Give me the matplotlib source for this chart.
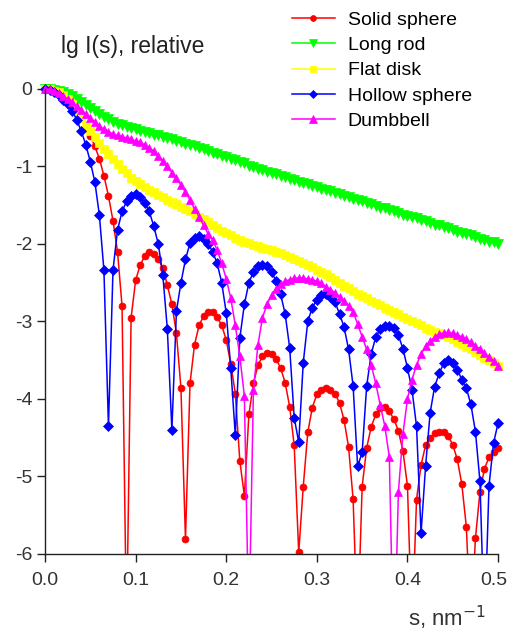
import matplotlib
matplotlib.use("Agg")
import matplotlib.pyplot as plt
from matplotlib.transforms import ScaledTranslation

plt.rcParams['font.family'] = ['Liberation Sans', 'DejaVu Sans']
plt.rcParams['axes.unicode_minus'] = False

# scattering vector grid, nm^-1
s_step = 0.005
s = [i * s_step for i in range(101)]

# lg I(s)
solid_sphere = [
    0, -0.005, -0.02, -0.05, -0.09, -0.14, -0.2, -0.28, -0.38, -0.5,
    -0.61, -0.74, -0.9, -1.12, -1.38, -1.7, -2.1, -2.8, -7.0, -2.95,
    -2.47, -2.27, -2.16, -2.11, -2.13, -2.2, -2.31, -2.53, -2.78, -3.15,
    -3.86, -5.81, -3.8, -3.3, -3.05, -2.93, -2.88, -2.88, -2.94, -3.05,
    -3.24, -3.55, -3.93, -4.8, -5.25, -4.2, -3.8, -3.56, -3.45, -3.41,
    -3.42, -3.48, -3.6, -3.79, -4.1, -4.6, -5.98, -5.13, -4.43, -4.11,
    -3.94, -3.88, -3.86, -3.88, -3.93, -4.05, -4.27, -4.62, -5.29, -7.0,
    -5.13, -4.63, -4.36, -4.2, -4.12, -4.1, -4.16, -4.26, -4.41, -4.67,
    -5.12, -7.0, -5.3, -4.85, -4.6, -4.5, -4.44, -4.42, -4.43, -4.48,
    -4.59, -4.78, -5.1, -5.65, -7.0, -5.8, -5.2, -4.9, -4.75, -4.68,
    -4.63]
long_rod = [
    0, -0.003, -0.01, -0.025, -0.04, -0.06, -0.09, -0.13, -0.17, -0.21,
    -0.25, -0.29, -0.32, -0.36, -0.39, -0.42, -0.45, -0.47, -0.49, -0.51,
    -0.52, -0.54, -0.56, -0.57, -0.59, -0.6, -0.62, -0.63, -0.65, -0.67,
    -0.69, -0.71, -0.72, -0.74, -0.76, -0.78, -0.8, -0.82, -0.84, -0.86,
    -0.88, -0.9, -0.92, -0.94, -0.96, -0.99, -1.01, -1.03, -1.05, -1.07,
    -1.09, -1.1, -1.12, -1.14, -1.16, -1.18, -1.2, -1.21, -1.23, -1.25,
    -1.27, -1.29, -1.31, -1.32, -1.34, -1.36, -1.38, -1.4, -1.42, -1.43,
    -1.45, -1.47, -1.49, -1.51, -1.53, -1.54, -1.56, -1.58, -1.6, -1.62,
    -1.64, -1.65, -1.67, -1.69, -1.71, -1.73, -1.75, -1.76, -1.78, -1.8,
    -1.82, -1.84, -1.86, -1.87, -1.89, -1.91, -1.93, -1.95, -1.97, -1.98,
    -2.0]
flat_disk = [
    0, -0.005, -0.02, -0.045, -0.08, -0.13, -0.2, -0.28, -0.37, -0.46,
    -0.54, -0.62, -0.7, -0.77, -0.84, -0.91, -0.97, -1.03, -1.09, -1.15,
    -1.19, -1.23, -1.27, -1.3, -1.33, -1.37, -1.4, -1.43, -1.46, -1.49,
    -1.52, -1.55, -1.58, -1.61, -1.65, -1.68, -1.72, -1.75, -1.79, -1.83,
    -1.86, -1.89, -1.92, -1.95, -1.97, -1.99, -2.01, -2.03, -2.05, -2.07,
    -2.08, -2.1, -2.12, -2.14, -2.17, -2.19, -2.22, -2.25, -2.27, -2.3,
    -2.33, -2.36, -2.39, -2.42, -2.46, -2.5, -2.54, -2.57, -2.61, -2.64,
    -2.67, -2.7, -2.73, -2.76, -2.79, -2.82, -2.85, -2.88, -2.91, -2.94,
    -2.97, -3.0, -3.02, -3.05, -3.08, -3.11, -3.13, -3.15, -3.17, -3.2,
    -3.23, -3.26, -3.29, -3.33, -3.36, -3.4, -3.43, -3.47, -3.5, -3.54,
    -3.57]
hollow_sphere = [
    0, -0.01, -0.04, -0.08, -0.14, -0.2, -0.28, -0.4, -0.545, -0.72,
    -0.94, -1.2, -1.63, -2.34, -4.35, -2.34, -1.82, -1.58, -1.45, -1.38,
    -1.36, -1.4, -1.47, -1.58, -1.77, -2.0, -2.4, -3.1, -4.4, -2.87,
    -2.5, -2.2, -1.99, -1.92, -1.9, -1.94, -2.0, -2.1, -2.25, -2.5,
    -2.89, -3.6, -4.47, -3.21, -2.78, -2.5, -2.36, -2.29, -2.27, -2.29,
    -2.36, -2.48, -2.65, -2.9, -3.34, -4.24, -4.56, -3.53, -3.0, -2.82,
    -2.72, -2.66, -2.65, -2.68, -2.75, -2.9, -3.07, -3.36, -3.83, -4.87,
    -4.69, -3.83, -3.42, -3.2, -3.1, -3.06, -3.06, -3.09, -3.18, -3.35,
    -3.6, -3.88, -4.35, -5.73, -4.87, -4.18, -3.84, -3.67, -3.54, -3.5,
    -3.54, -3.62, -3.75, -3.86, -4.07, -4.42, -5.06, -7.0, -5.12, -4.57,
    -4.31]
dumbbell = [
    0, -0.005, -0.02, -0.05, -0.09, -0.13, -0.17, -0.22, -0.27, -0.32,
    -0.37, -0.43, -0.48, -0.52, -0.55, -0.58, -0.6, -0.62, -0.63, -0.65,
    -0.67, -0.69, -0.72, -0.76, -0.8, -0.86, -0.93, -1.0, -1.08, -1.15,
    -1.24, -1.33, -1.43, -1.55, -1.65, -1.76, -1.87, -1.95, -2.08, -2.25,
    -2.45, -2.7, -3.05, -3.45, -3.96, -7.0, -3.88, -3.3, -2.95, -2.78,
    -2.66, -2.58, -2.52, -2.48, -2.46, -2.44, -2.44, -2.44, -2.45, -2.46,
    -2.48, -2.51, -2.55, -2.59, -2.63, -2.68, -2.74, -2.8, -2.88, -3.03,
    -3.2, -3.36, -3.56, -3.8, -4.08, -4.35, -4.75, -7.5, -5.2, -4.45,
    -4.0, -3.75, -3.56, -3.42, -3.32, -3.25, -3.2, -3.16, -3.15, -3.14,
    -3.15, -3.17, -3.2, -3.23, -3.27, -3.31, -3.36, -3.41, -3.46, -3.51,
    -3.57]

series = [
    ("Solid sphere", solid_sphere, "#ff0000", "o", 5.0),
    ("Long rod", long_rod, "#00ff00", "v", 6.5),
    ("Flat disk", flat_disk, "#ffff00", "s", 5.5),
    ("Hollow sphere", hollow_sphere, "#0000ff", "D", 5.2),
    ("Dumbbell", dumbbell, "#ff00ff", "^", 6.3),
]

x_ticks = [0.0, 0.1, 0.2, 0.3, 0.4, 0.5]
y_ticks = [0, -1, -2, -3, -4, -5, -6]

fig = plt.figure(figsize=(5.1, 6.33), dpi=100)
# axes placed so that s=0 sits at x=45px, s=0.5 at 498px, lg I=0 at y=89px, -6 at y=554px
ax = fig.add_axes([40.5 / 510, 1 - 554 / 633, 463.0 / 510, (554 - 84.3) / 633])

for name, vals, col, mk, ms in series:
    ax.plot(s, vals, color=col, marker=mk, markersize=ms, linewidth=1.1,
            markeredgewidth=0.5, markeredgecolor=col, label=name)

ax.set_xlim(-0.005, 0.506)
ax.set_ylim(-6, 0.06)
ax.spines['top'].set_visible(False)
ax.spines['right'].set_visible(False)
ax.spines['left'].set_position(('data', 0))
ax.spines['left'].set_bounds(-6, 0)
ax.spines['bottom'].set_bounds(0, 0.5)
for sp in ('left', 'bottom'):
    ax.spines[sp].set_linewidth(1.0)
    ax.spines[sp].set_color('#222222')

ax.set_xticks(x_ticks)
ax.set_xticklabels(["%.1f" % v for v in x_ticks])
ax.set_yticks(y_ticks)
ax.set_yticklabels(["%d" % v for v in y_ticks])
ax.tick_params(direction='out', length=6, width=1.0, labelsize=14, colors='#222222',
               labelcolor='#333333')
ax.tick_params(axis='x', pad=7)
ax.tick_params(axis='y', pad=3)

# the last x label touches the right edge; nudge it in a few pixels
last = ax.get_xticklabels()[-1]
last.set_transform(last.get_transform() + ScaledTranslation(-0.04, 0, fig.dpi_scale_trans))

fig.text(61 / 510, 1 - 47 / 633, "lg I(s), relative", fontsize=16.5, color='#222222',
         ha='left', va='center')
fig.text(486 / 510, 1 - 618 / 633, "s, nm$^{-1}$", fontsize=16, color='#333333',
         ha='right', va='center')

ax.legend(loc='upper left', bbox_to_anchor=(292 / 510, 1 - 11 / 633),
          bbox_transform=fig.transFigure, frameon=False, fontsize=14,
          handlelength=2.2, handletextpad=0.67, labelspacing=0.4,
          borderpad=0, borderaxespad=0, markerscale=0.85)

fig.savefig("out.png", dpi=100)
